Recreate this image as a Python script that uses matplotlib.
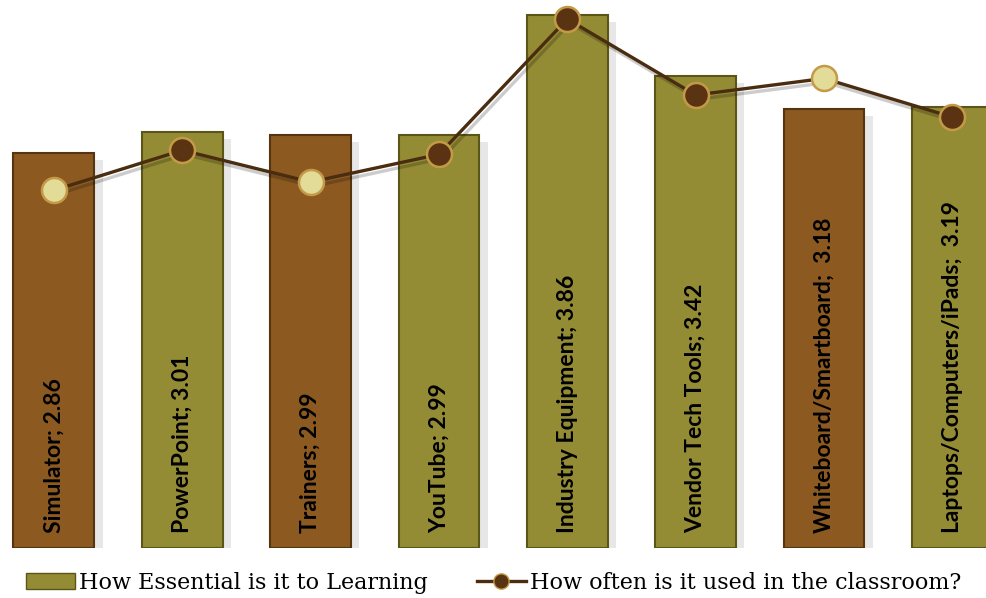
import matplotlib.pyplot as plt
import matplotlib.patheffects as pe
from matplotlib.lines import Line2D
from matplotlib.patches import Patch

# ====================================
# DATA
# ====================================

tools = ["Simulator", "PowerPoint", "Trainers", "YouTube", "Industry Equipment",
         "Vendor Tech Tools", "Whiteboard/Smartboard", "Laptops/Computers/iPads"]
bar_labels = ["Simulator; 2.86", "PowerPoint; 3.01", "Trainers; 2.99", "YouTube; 2.99",
              "Industry Equipment; 3.86", "Vendor Tech Tools; 3.42",
              "Whiteboard/Smartboard;  3.18", "Laptops/Computers/iPads;  3.19"]
essential = [2.86, 3.01, 2.99, 2.99, 3.86, 3.42, 3.18, 3.19]
used = [2.59, 2.88, 2.65, 2.85, 3.83, 3.28, 3.40, 3.12]
bar_kind = ["brown", "olive", "brown", "olive", "olive", "olive", "brown", "olive"]

# ====================================
# STYLE
# ====================================

olive = "#948b35"
brown = "#8c5a20"
bar_colors = {"olive": olive, "brown": brown}
edge_colors = {"olive": "#5c5518", "brown": "#553410"}
light_marker = "#e2dc98"
dark_marker = "#5a3412"
line_color = "#4a2c10"

fig = plt.figure(figsize=(9.87, 5.98), dpi=100)
ax = fig.add_axes([0, 1 - 548 / 598, 1, 548 / 598])

x = list(range(len(tools)))

bars = ax.bar(x, essential, width=0.63,
              color=[bar_colors[k] for k in bar_kind],
              edgecolor=[edge_colors[k] for k in bar_kind], linewidth=1.5,
              zorder=2)
for b in bars:
    b.set_path_effects([pe.SimplePatchShadow(offset=(6, -5), shadow_rgbFace="#b0b0b0", alpha=0.3),
                        pe.Normal()])

# labels inside bars
for xi, lab in zip(x, bar_labels):
    ax.text(xi, 0.11, lab, rotation=90, ha="center", va="bottom",
            fontsize=16.5, fontweight="bold", family="Lato", color="black", zorder=4)

# line
ax.plot(x, used, color=line_color, linewidth=2.4, zorder=3,
        path_effects=[pe.SimpleLineShadow(offset=(2, -3), alpha=0.2), pe.Normal()])
for xi, v, k in zip(x, used, bar_kind):
    face = light_marker if k == "brown" else dark_marker
    ax.plot(xi, v, marker="o", markersize=18, markerfacecolor=face,
            markeredgecolor="#c49a48", markeredgewidth=1.8, zorder=5, linestyle="none")

ax.set_xlim(-0.42, 7.27)
ax.set_ylim(0, 3.968)
ax.axis("off")

# ====================================
# LEGEND
# ====================================

handles = [Patch(facecolor=olive, edgecolor="#5c5518"),
           Line2D([0], [0], color=line_color, linewidth=2.4, marker="o", markersize=11,
                  markerfacecolor=dark_marker, markeredgecolor="#c49a48")]
fig.legend(handles, ["How Essential is it to Learning", "How often is it used in the classroom?"],
           loc="center", bbox_to_anchor=(0.5, 1 - 583 / 598), ncol=2, frameon=False,
           prop={"family": "DejaVu Serif", "size": 16}, columnspacing=2.2,
           handlelength=2.2, handletextpad=0.2)

fig.savefig("out.png", dpi=100)
